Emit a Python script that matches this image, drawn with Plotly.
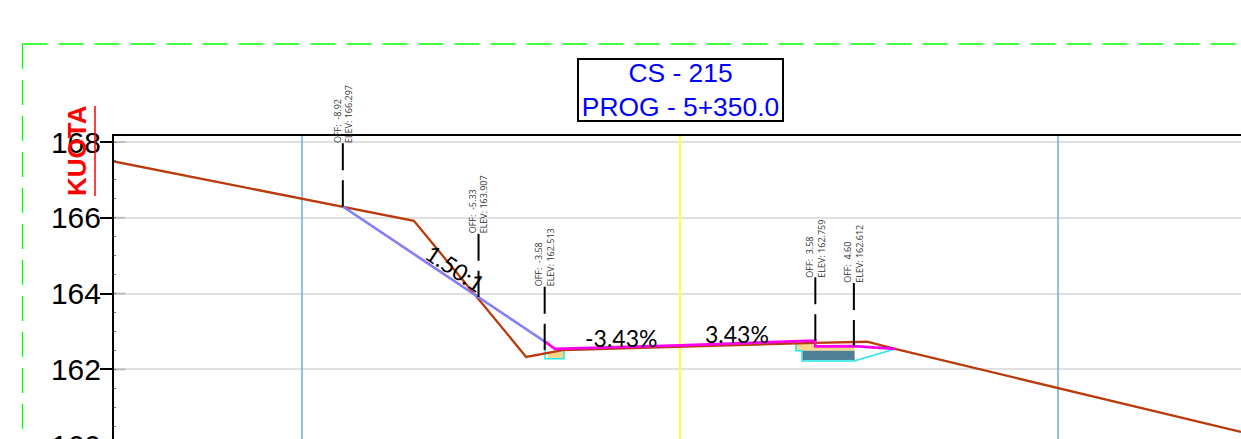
import plotly.graph_objects as go

# ---- data ----
y_ticks = [160, 162, 164, 166, 168]
ground_x = [-15, -8.92, -7.04, -4.07, -3.10, 3.58, 4.95, 5.69, 14.84]
ground_y = [167.49, 166.297, 165.92, 162.33, 162.51, 162.70, 162.73, 162.54, 160.35]
slope_x = [-8.92, -5.33, -3.57]
slope_y = [166.297, 163.907, 162.73]
design_x = [-3.57, -3.31, 0, 3.58, 3.58, 4.60, 5.69]
design_y = [162.73, 162.54, 162.636, 162.759, 162.61, 162.612, 162.54]
cyan_x = [-3.57, -3.57, -3.07, -3.07, 3.07, 3.07, 3.23, 3.23, 4.60, 5.69]
cyan_y = [162.67, 162.28, 162.28, 162.51, 162.70, 162.49, 162.49, 162.22, 162.22, 162.54]
tan_a_x = [-3.5, -3.07, -3.07, -3.5]
tan_a_y = [162.46, 162.46, 162.28, 162.28]
tan_b_x = [3.07, 3.58, 3.58, 4.62, 4.62, 3.23, 3.23, 3.07]
tan_b_y = [162.68, 162.68, 162.59, 162.59, 162.49, 162.49, 162.49, 162.49]
steel_x = [3.23, 4.62, 4.62, 3.23]
steel_y = [162.49, 162.49, 162.25, 162.25]
off_vals = [-8.92, -5.33, -3.58, 3.58, 4.60]
elev_vals = [166.297, 163.907, 162.513, 162.759, 162.612]
off_text = ["-8.92", "-5.33", "-3.58", "3.58", "4.60"]
elev_text = ["166.297", "163.907", "162.513", "162.759", "162.612"]
leader_len = 1.67
v_blue = [-10, 10]
v_yellow = [0]
slope_labels = [("1.50:1", -5.95, 164.68, 33.7), ("-3.43%", -1.55, 162.83, 0), ("3.43%", 1.5, 162.94, 0)]
title_lines = ["CS - 215", "PROG - 5+350.0"]

# ---- page geometry ----
W, H = 1241, 500
L, T = 114, 136
PW, PH = W - L, H - T
y_top = 168 + 6 / 37.9
y_bot = y_top - PH / 37.9
x_lo, x_hi = (L - 680) / 37.8, (W - 680) / 37.8


def px(v):
    return (v - L) / PW


def py(v):
    return 1 - (v - T) / PH


fig = go.Figure()

for vx in v_blue:
    fig.add_trace(go.Scatter(x=[vx, vx], y=[y_bot, y_top], mode="lines", line=dict(color="#6fa8dc", width=1.5)))
for vx in v_yellow:
    fig.add_trace(go.Scatter(x=[vx, vx], y=[y_bot, y_top], mode="lines", line=dict(color="#ffff33", width=2)))

# short darker stubs on the gridlines
for t in y_ticks:
    fig.add_trace(go.Scatter(x=[x_lo, x_lo + 0.3], y=[t, t], mode="lines", line=dict(color="#bdbdbd", width=2)))

fig.add_trace(go.Scatter(x=tan_a_x, y=tan_a_y, fill="toself", mode="lines", line=dict(width=0), fillcolor="#f5d68a"))
fig.add_trace(go.Scatter(x=tan_b_x, y=tan_b_y, fill="toself", mode="lines", line=dict(width=0), fillcolor="#f5d68a"))
fig.add_trace(go.Scatter(x=steel_x, y=steel_y, fill="toself", mode="lines", line=dict(width=0), fillcolor="#4f7f95"))
fig.add_trace(go.Scatter(x=cyan_x, y=cyan_y, mode="lines", line=dict(color="#22e6e6", width=1.5)))
fig.add_trace(go.Scatter(x=ground_x, y=ground_y, mode="lines", line=dict(color="#b93a0a", width=2.3)))
fig.add_trace(go.Scatter(x=design_x, y=design_y, mode="lines", line=dict(color="#ff00ee", width=2.8)))
fig.add_trace(go.Scatter(x=slope_x, y=slope_y, mode="lines", line=dict(color="#f040e0", width=2.6)))
fig.add_trace(go.Scatter(x=slope_x, y=slope_y, mode="lines", line=dict(color="#4f9cff", width=1.6)))

for ox, ev, ot, et in zip(off_vals, elev_vals, off_text, elev_text):
    top = ev + leader_len
    fig.add_trace(go.Scatter(x=[ox, ox], y=[top, ev], mode="lines", line=dict(color="black", width=2, dash="27px,10px")))
    fig.add_annotation(x=ox, y=top, xref="x", yref="y", text=f"OFF:\u00a0\u00a0{ot}<br>ELEV:\u00a0{et}", showarrow=False,
                       textangle=-90, xanchor="center", yanchor="bottom", align="left", yshift=-2,
                       font=dict(family="Open Sans", size=9, color="#333333"))

for txt, lx, ly, ang in slope_labels:
    fig.add_annotation(x=lx, y=ly, xref="x", yref="y", text=txt, showarrow=False, textangle=ang,
                       font=dict(family="Lato", size=23, color="black"))

fig.add_annotation(x=0, xref="x", y=py(89.5), yref="paper", text="<br>".join(title_lines), showarrow=False,
                   font=dict(family="Liberation Sans", size=26.4, color="#0000ff"), align="center",
                   bordercolor="black", borderwidth=2, bgcolor="white", width=203, height=60, borderpad=0,
                   xanchor="center", yanchor="middle")
fig.add_annotation(x=px(77), xref="paper", y=py(151), yref="paper", text="<b>KUOTA</b>", showarrow=False,
                   textangle=-90, xanchor="center", yanchor="middle",
                   font=dict(family="Liberation Sans", size=26, color="#ff0000"))

shapes = [
    dict(type="line", xref="paper", yref="paper", x0=px(22.5), x1=px(W), y0=py(44), y1=py(44),
         line=dict(color="#00ff00", width=1.3, dash="25px,11px")),
    dict(type="line", xref="paper", yref="paper", x0=px(22.5), x1=px(22.5), y0=py(44), y1=py(H),
         line=dict(color="#00ff00", width=1.3, dash="25px,11px")),
    dict(type="line", xref="paper", yref="paper", x0=px(95), x1=px(95), y0=py(106), y1=py(196),
         line=dict(color="#ff0000", width=1.5)),
]

fig.update_layout(
    width=W, height=H, autosize=False, showlegend=False,
    margin=dict(l=L, r=0, t=T, b=0, pad=0),
    paper_bgcolor="white", plot_bgcolor="white", shapes=shapes,
    xaxis=dict(range=[x_lo, x_hi], side="top", showline=True, linecolor="black", linewidth=2, showgrid=False,
               zeroline=False, showticklabels=False, ticks=""),
    yaxis=dict(range=[y_bot, y_top], tickvals=y_ticks, ticks="outside", ticklen=12, tickwidth=1.5, tickcolor="black",
               showline=True, linecolor="black", linewidth=2, showgrid=True, gridcolor="#e0e0e0", gridwidth=2,
               zeroline=False, tickfont=dict(family="Liberation Sans", size=30, color="black"),
               ticklabelstandoff=-7,
               minor=dict(dtick=0.5, ticks="inside", ticklen=2, tickwidth=1, tickcolor="#777777", showgrid=False)),
)

fig.write_html("out.html", config=dict(displayModeBar=False),
               post_script="document.body.style.margin='0';document.documentElement.style.overflow='hidden';document.body.style.overflow='hidden';")
